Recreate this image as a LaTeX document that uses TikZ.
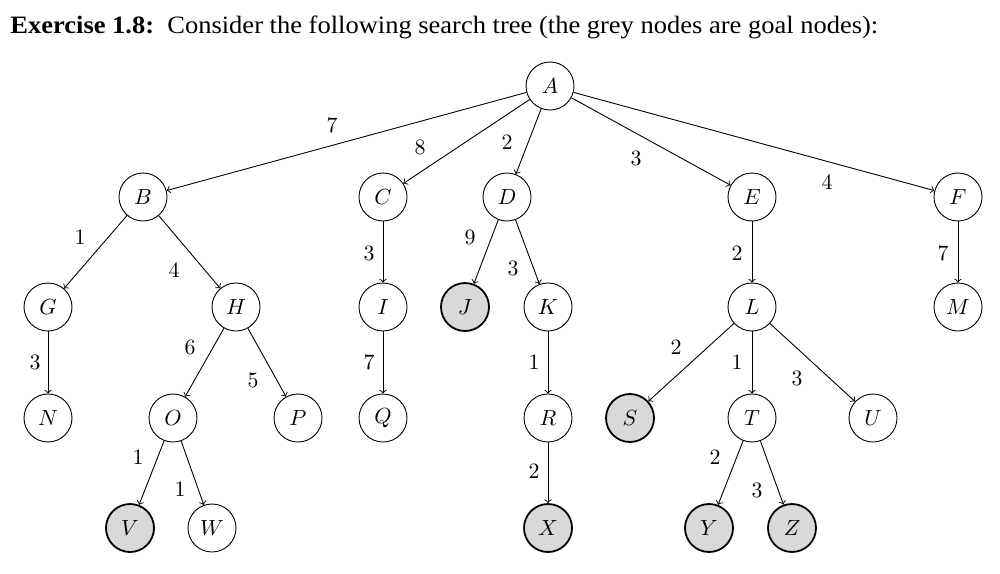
\documentclass[tikz,border=0pt]{standalone}
\usepackage{fontspec}
\newfontfamily\hdr{Liberation Serif}
\begin{document}
\begin{tikzpicture}[x=0.5pt,y=-0.5pt,
  tnode/.style={circle,draw,line width=0.45pt,minimum size=24pt,inner sep=0pt,font=\fontsize{11}{13}\selectfont},
  goal/.style={tnode,fill=gray!30,line width=0.9pt},
  lbl/.style={inner sep=0pt,font=\fontsize{11}{13}\selectfont},
  edge/.style={->,line width=0.45pt}]
\useasboundingbox (0,0) rectangle (1000,573);
\node[anchor=base west,inner sep=0pt,font=\hdr\fontsize{12.5}{14}\selectfont] (title) at (10,33)
  {\scalebox{1.06}[1]{\textbf{Exercise 1.8:}\ \ Consider the following search tree (the grey nodes are goal nodes):}};
% nodes
\node[tnode] (A) at (550,86) {$A$};
\node[tnode] (B) at (143,197) {$B$};
\node[tnode] (C) at (383,197) {$C$};
\node[tnode] (D) at (507,197) {$D$};
\node[tnode] (E) at (752,197) {$E$};
\node[tnode] (F) at (958,197) {$F$};
\node[tnode] (G) at (48,307) {$G$};
\node[tnode] (H) at (236,307) {$H$};
\node[tnode] (I) at (383,307) {$I$};
\node[goal]  (J) at (465,307) {$J$};
\node[tnode] (K) at (548,307) {$K$};
\node[tnode] (L) at (752,307) {$L$};
\node[tnode] (M) at (958,307) {$M$};
\node[tnode] (N) at (48,418) {$N$};
\node[tnode] (O) at (173,418) {$O$};
\node[tnode] (P) at (298,418) {$P$};
\node[tnode] (Q) at (383,418) {$Q$};
\node[tnode] (R) at (548,418) {$R$};
\node[goal]  (S) at (630,418) {$S$};
\node[tnode] (T) at (752,418) {$T$};
\node[tnode] (U) at (873,418) {$U$};
\node[goal]  (V) at (130,528) {$V$};
\node[tnode] (W) at (212,528) {$W$};
\node[goal]  (X) at (548,528) {$X$};
\node[goal]  (Y) at (709,528) {$Y$};
\node[goal]  (Z) at (792,528) {$Z$};
% edges
\foreach \a/\b in {A/B,A/C,A/D,A/E,A/F,B/G,B/H,C/I,D/J,D/K,E/L,F/M,G/N,H/O,H/P,I/Q,K/R,L/S,L/T,L/U,O/V,O/W,R/X,T/Y,T/Z}
  \draw[edge] (\a) -- (\b);
% labels
\node[lbl] (lAB) at (332,125) {$7$};
\node[lbl] (lAC) at (420,147) {$8$};
\node[lbl] (lAD) at (507,142) {$2$};
\node[lbl] (lAE) at (636,158) {$3$};
\node[lbl] (lAF) at (827,182) {$4$};
\node[lbl] (lBG) at (80,237) {$1$};
\node[lbl] (lBH) at (174,270) {$4$};
\node[lbl] (lCI) at (369,253) {$3$};
\node[lbl] (lDJ) at (470,237) {$9$};
\node[lbl] (lDK) at (513,268) {$3$};
\node[lbl] (lEL) at (737,253) {$2$};
\node[lbl] (lFM) at (943,253) {$7$};
\node[lbl] (lGN) at (35,362) {$3$};
\node[lbl] (lHO) at (190,347) {$6$};
\node[lbl] (lHP) at (253,380) {$5$};
\node[lbl] (lIQ) at (369,362) {$7$};
\node[lbl] (lKR) at (534,362) {$1$};
\node[lbl] (lLS) at (676,347) {$2$};
\node[lbl] (lLT) at (737,362) {$1$};
\node[lbl] (lLU) at (797,378) {$3$};
\node[lbl] (lOV) at (138,457) {$1$};
\node[lbl] (lOW) at (180,489) {$1$};
\node[lbl] (lRX) at (534,471) {$2$};
\node[lbl] (lTY) at (715,457) {$2$};
\node[lbl] (lTZ) at (757,490) {$3$};
\end{tikzpicture}
\end{document}
